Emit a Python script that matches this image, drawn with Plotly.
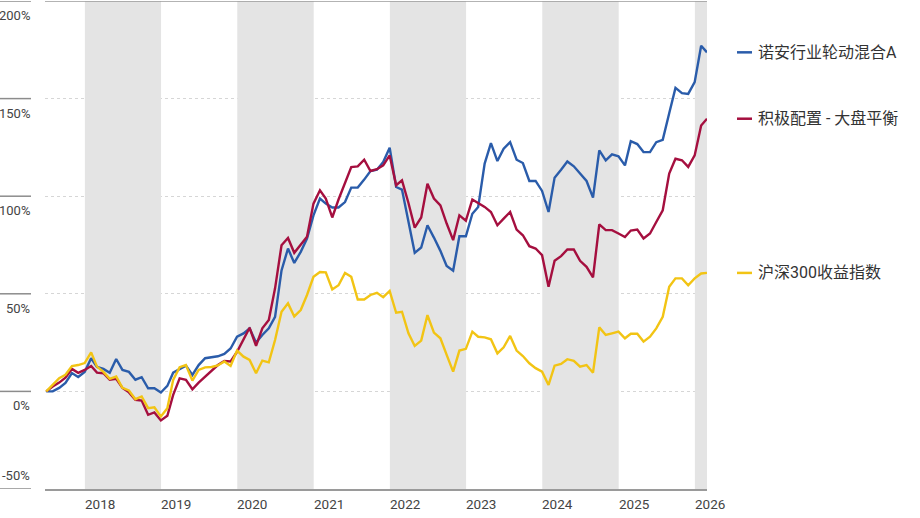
import pandas as pd
import plotly.graph_objects as go

dates = pd.date_range("2017-06-30", periods=105, freq="ME")

names = ["诺安行业轮动混合A", "积极配置 - 大盘平衡", "沪深300收益指数"]
colors = ["#2a5caa", "#a50f3f", "#f2c414"]

fund = [0, 0, 1.8, 4.3, 9.4, 7.4, 10, 17, 12.5, 11.5, 9.5, 16.6, 11, 10, 6, 7.3, 1.6, 1.6, -0.6, 2.8,
        9.6, 11.3, 13.2, 8.4, 13.5, 17, 17.6, 18, 19.2, 22, 28, 29.7, 32.3, 25, 28.9, 32.3, 38.2, 62, 73.2, 65.8,
        71.5, 78.3, 90.2, 98.8, 96.2, 94.2, 94.2, 97, 104.4, 104.4, 108.5, 112.9, 113.6, 117.5, 124.8, 104.7, 103.4, 87.7, 71, 73.7,
        85.1, 78.8, 72, 64.2, 61.8, 79.5, 79.5, 91, 94.5, 116.7, 127.2, 118, 124.3, 127.7, 118.7, 117, 107.8, 107.8, 102.7, 91.9,
        109.5, 113.6, 117.8, 115.3, 111.6, 107.8, 99.3, 123.5, 118.4, 121.4, 120.4, 115.8, 128.2, 126.7, 122.6, 122.6, 127.7, 128.9, 142.5, 155.5,
        152.8, 152.4, 158.4, 177.1, 173.7]

peer = [0, 2.5, 4.5, 7, 11.5, 9.5, 11, 13, 9.6, 9.3, 6, 6.4, 1.8, -0.5, -4.3, -4.7, -12, -10.8, -14.9, -12.5,
        -1.8, 6.7, 5.9, 1.1, 4.5, 7.5, 11, 13.5, 15.6, 15.3, 20.3, 26.3, 32.6, 23.3, 32.3, 36.6, 52.8, 74.9, 78.6, 71,
        74.9, 79.2, 96.2, 103, 98.8, 89.1, 98.3, 107.3, 114.9, 115.3, 118.7, 112.9, 113.8, 115.8, 120.9, 105.6, 108.1, 96.5, 83.9, 89.1,
        106.4, 98.8, 95.3, 86, 77.5, 90.2, 87.5, 98.3, 96.5, 94.5, 91.9, 85.1, 88.5, 91.9, 82.9, 80, 74.4, 73.2, 69.8, 53.6,
        66.9, 69.3, 72.7, 72.7, 66.9, 63.8, 58.4, 85.6, 82.6, 82.6, 80.9, 79.1, 82.4, 82.9, 78.3, 80.9, 86.8, 92.8, 111.6, 119.2,
        118.4, 115, 120.9, 136.2, 139.7]

index = [0, 3.3, 6.8, 8.5, 13, 13.5, 14.5, 20, 12.7, 10, 6.4, 7.6, 1.8, 0.5, -4, -2.6, -8.6, -8.1, -12.9, -8.6,
         5.9, 12.4, 13.5, 5.5, 11, 12.3, 12.5, 13.3, 15.3, 13, 20.9, 17.8, 16.1, 9.3, 15.8, 14.9, 26.3, 40.8, 45.1, 38.4,
         41.7, 49.4, 58.7, 61.2, 61, 52.2, 54.4, 60.7, 58.7, 47.1, 47.1, 49.4, 50.5, 48.3, 51.5, 40.3, 40.8, 29.8, 23.3, 26,
         39.1, 30.1, 27.2, 18.7, 10.1, 20.9, 21.8, 30.6, 28, 27.7, 26.7, 19.5, 22.6, 28.4, 20.9, 18.1, 14.4, 11.9, 10.1, 3.3,
         13.2, 14.1, 16.5, 15.7, 12.7, 13.5, 9.6, 32.8, 28.9, 29.7, 30.6, 27.2, 29.5, 29.5, 25.5, 28, 32.3, 38.2, 53.6, 57.9,
         57.9, 54.4, 57.9, 60.4, 60.7]

series = [fund, peer, index]
ytick_vals = [200, 150, 100, 50, 0, -50]
ytick_text = ["200%", "150%", "100%", "50%", "0%", "-50%"]
years = list(range(2018, 2027))
shaded_years = [2018, 2020, 2022, 2024, 2026]

W, H = 920, 518
ML, MR, MT, MB = 45, 213, 1, 29
PW = W - ML - MR

def px(x):
    return (x - ML) / PW

FONT = "Roboto, Noto Sans CJK SC, sans-serif"
x_start = pd.Timestamp("2017-06-24")
x_end = pd.Timestamp("2026-02-28")

fig = go.Figure()
for s, n, c in zip(series, names, colors):
    fig.add_trace(go.Scatter(x=dates, y=s, name=n, mode="lines",
                             line=dict(color=c, width=2.4)))

shapes = []
for yr in shaded_years:
    x1 = min(pd.Timestamp(f"{yr + 1}-01-01"), x_end)
    shapes.append(dict(type="rect", xref="x", yref="y", x0=f"{yr}-01-01", x1=x1,
                       y0=-50, y1=200, fillcolor="#e4e4e4", line=dict(width=0), layer="between"))
for v in ytick_vals:
    shapes.append(dict(type="line", xref="paper", yref="y", x0=px(0), x1=px(31), y0=v, y1=v,
                       line=dict(color="#8c8c8c", width=1.5)))
shapes.append(dict(type="line", xref="paper", yref="y", x0=0, x1=1, y0=200, y1=200,
                   line=dict(color="#9a9a9a", width=1.5)))

annotations = []
for v, t in zip(ytick_vals, ytick_text):
    if v == -50:
        annotations.append(dict(x=px(32), y=v, xref="paper", yref="y", text=t, showarrow=False,
                                xanchor="right", yanchor="bottom", yshift=4,
                                font=dict(family=FONT, size=13, color="#444")))
    else:
        annotations.append(dict(x=px(32), y=v, xref="paper", yref="y", text=t, showarrow=False,
                                xanchor="right", yanchor="top", yshift=-5,
                                font=dict(family=FONT, size=13, color="#444")))
for yr in years:
    annotations.append(dict(x=f"{yr}-01-01", y=0, xref="x", yref="paper", text=str(yr), showarrow=False,
                            xanchor="left", yanchor="top", yshift=-5, xshift=-2,
                            font=dict(family=FONT, size=13.5, color="#444")))
for s, n, c in zip(series, names, colors):
    last = s[-1]
    shapes.append(dict(type="line", xref="paper", yref="y", x0=px(737), x1=px(752), y0=last, y1=last,
                       line=dict(color=c, width=2.5)))
    annotations.append(dict(x=px(756), y=last, xref="paper", yref="y", text=n, showarrow=False,
                            xanchor="left", yanchor="middle",
                            font=dict(family=FONT, size=16, color="#333")))

fig.update_layout(
    width=W, height=H, margin=dict(l=ML, r=MR, t=MT, b=MB),
    paper_bgcolor="white", plot_bgcolor="white", showlegend=False,
    shapes=shapes, annotations=annotations,
    xaxis=dict(range=[x_start, x_end], showgrid=False, showticklabels=False, ticks="",
               showline=True, linecolor="#9a9a9a", linewidth=1.5, zeroline=False),
    yaxis=dict(range=[-50, 200], tickvals=[0, 50, 100, 150], showticklabels=False, ticks="",
               showgrid=True, gridcolor="#d6d6d6", griddash="dot", gridwidth=1, zeroline=False,
               showline=False),
)

fig.write_html("out.html")
